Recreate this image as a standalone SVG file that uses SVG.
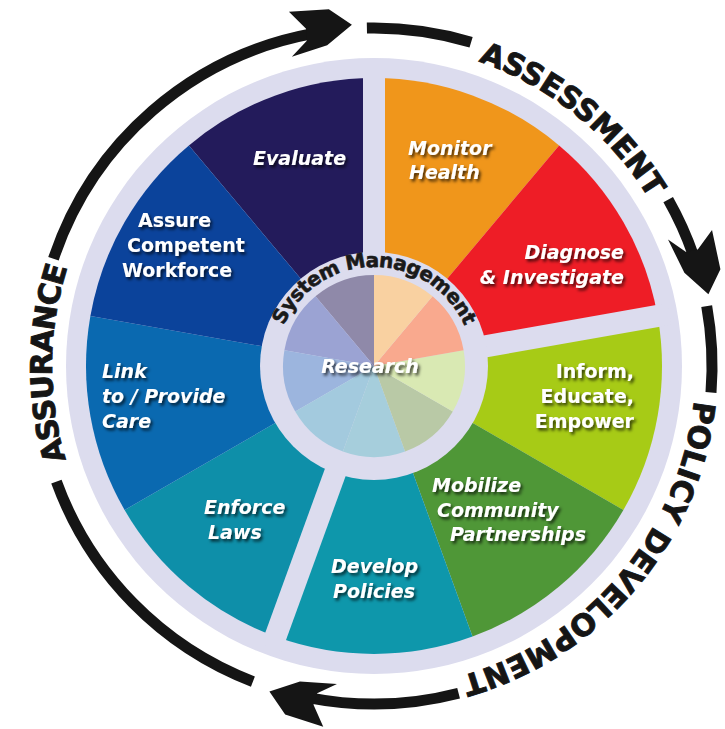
<svg xmlns="http://www.w3.org/2000/svg" width="725" height="729" viewBox="0 0 725 729">
<defs>
<style>
.lbl{font-family:"DejaVu Sans","Liberation Sans",sans-serif;font-weight:bold;font-size:19px;fill:#ffffff;filter:url(#sh);}
.it{font-style:italic;}
.big{font-family:"DejaVu Sans","Liberation Sans",sans-serif;font-weight:bold;font-size:30px;fill:#151515;stroke:#151515;stroke-width:0.9;}
.sm{font-family:"DejaVu Sans","Liberation Sans",sans-serif;font-weight:bold;font-size:20px;letter-spacing:-0.6px;fill:#1a1a1a;stroke:#1a1a1a;stroke-width:0.6;}
.shaft{fill:none;stroke:#151515;stroke-width:11;}
.div{stroke:#dcdcee;stroke-width:22;}
</style>
<filter id="sh" x="-20%" y="-40%" width="140%" height="180%">
<feDropShadow dx="2" dy="2.5" stdDeviation="1.5" flood-color="#000000" flood-opacity="0.7"/>
</filter>
<path id="head" d="M0,0 L-22,-17 L-62,-17 L-46,1 L-46,13 L-62,28 L-26,19 Z" fill="#151515"/>
<path id="tpA" d="M211.1,643.7 A322,322 0 0 1 215.0,86.0"/>
<path id="tpB" d="M257.6,65.8 A322,322 0 0 1 692.2,415.3"/>
<path id="tpC" d="M677.1,257.2 A322,322 0 0 1 316.7,682.8"/>
<path id="tpS" d="M275,366 A99,99 0 0 1 473,366"/>
</defs>

<rect width="725" height="729" fill="#ffffff"/>
<circle cx="374" cy="366" r="308" fill="#dcdcee"/>

<g id="evaluate">
<path d="M374,366 L188.9,145.4 A288,288 0 0 1 374,78 Z" fill="#231b5b"/>
<text class="lbl it" x="253" y="165">Evaluate</text>
</g>
<g id="monitor-health">
<path d="M374,366 L374,78 A288,288 0 0 1 559.1,145.4 Z" fill="#f0961b"/>
<text class="lbl it" x="408" y="155">Monitor</text>
<text class="lbl it" x="409" y="179">Health</text>
</g>
<g id="diagnose">
<path d="M374,366 L559.1,145.4 A288,288 0 0 1 657.6,316 Z" fill="#ee1d26"/>
<text class="lbl it" x="624" y="259" text-anchor="end">Diagnose</text>
<text class="lbl it" x="624" y="284" text-anchor="end">&amp; Investigate</text>
</g>
<g id="inform">
<path d="M374,366 L657.6,316 A288,288 0 0 1 623.4,510 Z" fill="#a7cb16"/>
<text class="lbl" x="634" y="378" text-anchor="end">Inform,</text>
<text class="lbl" x="634" y="403" text-anchor="end">Educate,</text>
<text class="lbl" x="634" y="428" text-anchor="end">Empower</text>
</g>
<g id="mobilize">
<path d="M374,366 L623.4,510 A288,288 0 0 1 472.5,636.6 Z" fill="#4f9737"/>
<text class="lbl it" x="432" y="492">Mobilize</text>
<text class="lbl it" x="437" y="517">Community</text>
<text class="lbl it" x="450" y="541">Partnerships</text>
</g>
<g id="develop-policies">
<path d="M374,366 L472.5,636.6 A288,288 0 0 1 275.5,636.6 Z" fill="#0e97ab"/>
<text class="lbl it" x="331" y="573">Develop</text>
<text class="lbl it" x="333" y="598">Policies</text>
</g>
<g id="enforce-laws">
<path d="M374,366 L275.5,636.6 A288,288 0 0 1 124.6,510 Z" fill="#0e8fa9"/>
<text class="lbl it" x="204" y="514">Enforce</text>
<text class="lbl it" x="208" y="539">Laws</text>
</g>
<g id="link-care">
<path d="M374,366 L124.6,510 A288,288 0 0 1 90.4,316 Z" fill="#0a69b0"/>
<text class="lbl it" x="102" y="378">Link</text>
<text class="lbl it" x="102" y="403">to / Provide</text>
<text class="lbl it" x="102" y="428">Care</text>
</g>
<g id="assure-workforce">
<path d="M374,366 L90.4,316 A288,288 0 0 1 188.9,145.4 Z" fill="#0b439b"/>
<text class="lbl" x="138" y="227">Assure</text>
<text class="lbl" x="127" y="252">Competent</text>
<text class="lbl" x="122" y="277">Workforce</text>
</g>

<g id="dividers">
<line class="div" x1="374" y1="366" x2="374" y2="60"/>
<line class="div" x1="374" y1="366" x2="669.4" y2="313.9"/>
<line class="div" x1="374" y1="366" x2="271.4" y2="647.9"/>
<circle cx="374" cy="366" r="114" fill="#dcdcee"/>
</g>

<g id="research">
<path d="M374,366 L315.5,296.3 A91,91 0 0 1 374,275 Z" fill="#8f89a9"/>
<path d="M374,366 L284.4,350.2 A91,91 0 0 1 315.5,296.3 Z" fill="#9ba3d3"/>
<path d="M374,366 L295.2,411.5 A91,91 0 0 1 284.4,350.2 Z" fill="#9cb5de"/>
<path d="M374,366 L342.9,451.5 A91,91 0 0 1 295.2,411.5 Z" fill="#a3cade"/>
<path d="M374,366 L405.1,451.5 A91,91 0 0 1 342.9,451.5 Z" fill="#a6cedc"/>
<path d="M374,366 L452.8,411.5 A91,91 0 0 1 405.1,451.5 Z" fill="#b9c9a6"/>
<path d="M374,366 L463.6,350.2 A91,91 0 0 1 452.8,411.5 Z" fill="#d9e9b3"/>
<path d="M374,366 L432.5,296.3 A91,91 0 0 1 463.6,350.2 Z" fill="#f9a98e"/>
<path d="M374,366 L374,275 A91,91 0 0 1 432.5,296.3 Z" fill="#f9d1a1"/>
<text class="lbl it" x="370" y="373" text-anchor="middle">Research</text>
</g>

<g id="system-management">
<text class="sm"><textPath href="#tpS" startOffset="50%" text-anchor="middle">System Management</textPath></text>
</g>

<g id="connectors">
<path class="shaft" d="M252.9,681.6 A338,338 0 0 1 56.4,481.6"/>
<path class="shaft" d="M53.5,258.7 A338,338 0 0 1 312.4,33.6"/>
<use href="#head" transform="translate(351.9,24.7) rotate(-3.7)"/>
<path class="shaft" d="M366.9,28.1 A338,338 0 0 1 471.1,42.3"/>
<path class="shaft" d="M668.2,199.6 A338,338 0 0 1 693.8,256.5"/>
<use href="#head" transform="translate(708.4,294.3) rotate(77.9)"/>
<path class="shaft" d="M706.7,306.1 A338,338 0 0 1 711.0,392.5"/>
<path class="shaft" d="M458.6,693.2 A338,338 0 0 1 309.5,697.8"/>
<use href="#head" transform="translate(269.4,691.6) rotate(-162.2)"/>
</g>

<g id="assurance">
<text class="big" letter-spacing="-1"><textPath href="#tpA" startOffset="50%" text-anchor="middle">ASSURANCE</textPath></text>
</g>
<g id="assessment">
<text class="big"><textPath href="#tpB" startOffset="50%" text-anchor="middle">ASSESSMENT</textPath></text>
</g>
<g id="policy-development">
<text class="big"><textPath href="#tpC" startOffset="50%" text-anchor="middle">POLICY DEVELOPMENT</textPath></text>
</g>
</svg>
